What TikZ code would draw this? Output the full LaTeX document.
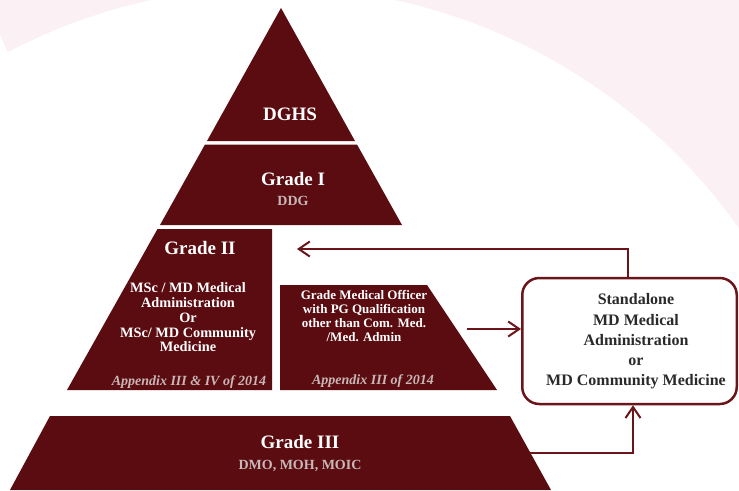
\documentclass[tikz,border=0pt]{standalone}
\usepackage{fontspec}
\setmainfont{Liberation Serif}
\usetikzlibrary{arrows.meta}
\definecolor{maroon}{HTML}{5A0C10}
\definecolor{bgpink}{HTML}{FBF0F3}
\definecolor{softgray}{HTML}{C9B7B7}
\definecolor{linered}{HTML}{6A1519}
\definecolor{boxtext}{HTML}{2A2A2A}
\begin{document}
\begin{tikzpicture}[x=1pt,y=-1pt,
  tier/.style={fill=maroon},
  head/.style={text=white,font=\bfseries\fontsize{19}{22}\selectfont,inner sep=0pt},
  sub/.style={text=softgray,font=\bfseries\fontsize{14}{16}\selectfont,inner sep=0pt},
  body/.style={text=white,font=\bfseries\fontsize{14.3}{14.8}\selectfont,align=center,inner sep=0pt},
  mobody/.style={text=white,font=\bfseries\fontsize{13}{13.9}\selectfont,align=center,inner sep=0pt},
  appx/.style={text=softgray,font=\bfseries\itshape\fontsize{14}{16}\selectfont,inner sep=0pt},
  sabox/.style={draw=linered,line width=2.5pt,rounded corners=17pt,fill=white,minimum width=214.5pt,minimum height=126pt,inner sep=0pt},
  satext/.style={text=boxtext,font=\bfseries\fontsize{16}{20.2}\selectfont,align=center,inner sep=0pt},
  conn/.style={draw=linered,line width=2pt,-{Straight Barb[length=11pt,width=15pt,line width=2pt]}},
]
\useasboundingbox (0,0) rectangle (739,490);
\begin{scope}
\clip (0,0) rectangle (739,490);
\fill[bgpink] (0,0) rectangle (739,490);
\fill[white] (273,557) circle[radius=570pt];
\fill[white] (0,35) -- (8,53) -- (0,60) -- cycle;
\end{scope}

% pyramid tiers
\fill[tier] (281,8) -- (355,141) -- (207,141) -- cycle;
\fill[tier] (205,144.5) -- (357,144.5) -- (402,225) -- (160,225) -- cycle;
\fill[tier] (157.5,229) -- (272,229) -- (272,390) -- (67,390) -- cycle;
\fill[tier] (280,285) -- (427,285) -- (497,390) -- (280,390) -- cycle;
\fill[tier] (50,416) -- (510,416) -- (551,490) -- (10,490) -- cycle;

% texts
\node[head] (dghs) at (290,114) {DGHS};
\node[head] (g1) at (293,179) {Grade I};
\node[sub] (ddg) at (293,201) {DDG};
\node[head] (g2) at (200,248) {Grade II};
\node[body] (g2body) at (188,317.5) {MSc / MD Medical\\Administration\\Or\\MSc/ MD Community\\Medicine};
\node[appx] (g2app) at (189,382) {Appendix III \& IV of 2014};
\node[mobody] (mo) at (364,316) {Grade Medical Officer\\with PG Qualification\\other than Com. Med.\\/Med. Admin};
\node[appx] (moapp) at (373,381) {Appendix III of 2014};
\node[head] (g3) at (300,442) {Grade III};
\node[sub] (g3sub) at (300,466) {DMO, MOH, MOIC};

% standalone box
\node[sabox] (sa) at (629.5,341) {};
\node[satext] (satxt) at (636,341.5) {Standalone\\MD Medical\\Administration\\or\\MD Community Medicine};

% connectors
\coordinate (g2tip) at (297,249);
\coordinate (moout) at (467,329);
\coordinate (g3out) at (530,453);
\draw[conn] ([xshift=-1.5pt]sa.north) |- (g2tip);
\draw[conn] (moout) -- (moout -| sa.west);
\draw[conn] (g3out) -| ([xshift=3.5pt]sa.south);
\end{tikzpicture}
\end{document}
